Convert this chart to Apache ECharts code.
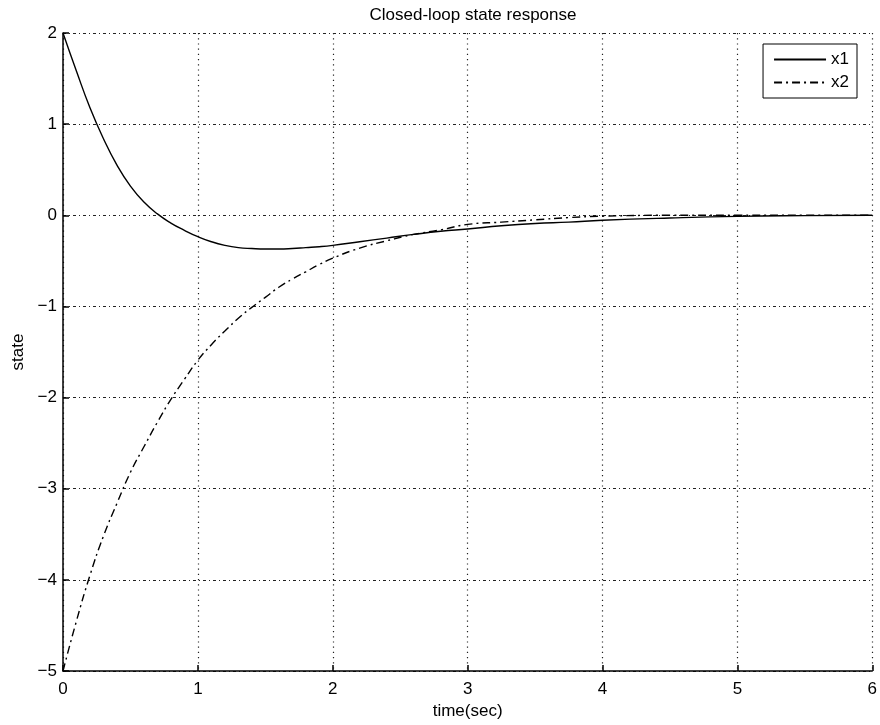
<!DOCTYPE html>
<html>
<head>
<meta charset="utf-8">
<script src="https://cdn.jsdelivr.net/npm/echarts@6/dist/echarts.min.js"></script>
<style>html,body{margin:0;padding:0;background:#fff}#c{width:880px;height:725px}</style>
</head>
<body>
<div id="c"></div>
<script>
const titleText = 'Closed-loop state response';
const xName = 'time(sec)';
const yName = 'state';
const seriesNames = ['x1', 'x2'];
const t  = [0, 0.1, 0.2, 0.3, 0.4, 0.5, 0.6, 0.7, 0.8, 0.9, 1.0, 1.1, 1.2, 1.3, 1.4, 1.5, 1.6, 1.7, 1.8, 1.9, 2.0, 2.2, 2.4, 2.6, 2.8, 3.0, 3.25, 3.5, 3.75, 4.0, 4.5, 5.0, 5.5, 6.0];
const x1 = [2.0, 1.58, 1.18, 0.84, 0.55, 0.32, 0.145, 0.015, -0.085, -0.165, -0.235, -0.29, -0.33, -0.355, -0.365, -0.37, -0.37, -0.365, -0.355, -0.345, -0.33, -0.29, -0.25, -0.21, -0.175, -0.15, -0.115, -0.09, -0.075, -0.055, -0.03, -0.012, -0.004, 0];
const x2 = [-5.0, -4.45, -3.95, -3.52, -3.16, -2.82, -2.54, -2.27, -2.02, -1.80, -1.59, -1.42, -1.27, -1.13, -1.01, -0.9, -0.79, -0.70, -0.62, -0.54, -0.47, -0.36, -0.28, -0.21, -0.16, -0.1, -0.075, -0.05, -0.025, -0.01, 0, 0, 0, 0];

const pair = (xs, ys) => xs.map((v, i) => [v, ys[i]]);
const fmt = v => String(v).replace('-', '\u2212');
const font = 'Liberation Sans, Arial, Helvetica, sans-serif';

const chart = echarts.init(document.getElementById('c'), null, {renderer: 'canvas'});
chart.setOption({
  animation: false,
  backgroundColor: '#fff',
  textStyle: {fontFamily: font},
  title: {
    text: titleText, left: 468, top: 2, textAlign: 'center',
    textStyle: {fontFamily: font, fontSize: 17, fontWeight: 'normal', color: '#000'}
  },
  grid: {left: 63, right: 7, top: 33, bottom: 53, containLabel: false},
  legend: {
    data: seriesNames,
    orient: 'vertical',
    right: 23, top: 44,
    backgroundColor: '#fff',
    borderColor: '#000', borderWidth: 1,
    padding: [7, 8, 7, 10],
    itemWidth: 52, itemHeight: 14, itemGap: 6,
    itemStyle: {opacity: 0},
    textStyle: {fontFamily: font, fontSize: 17, color: '#000'}
  },
  xAxis: {
    type: 'value', min: 0, max: 6, interval: 1,
    name: xName, nameLocation: 'middle', nameGap: 32,
    nameTextStyle: {fontFamily: font, fontSize: 17, color: '#000'},
    axisLine: {onZero: false, lineStyle: {color: '#000', width: 1.5}},
    axisTick: {inside: true, length: 6, lineStyle: {color: '#000', width: 1.5}},
    axisLabel: {margin: 10, fontFamily: font, fontSize: 17, color: '#000', formatter: fmt},
    splitLine: {show: true, lineStyle: {color: '#222', width: 1.2, type: [1.2, 4]}}
  },
  yAxis: {
    type: 'value', min: -5, max: 2, interval: 1,
    name: yName, nameLocation: 'middle', nameGap: 36, nameRotate: 90,
    nameTextStyle: {fontFamily: font, fontSize: 17, color: '#000'},
    axisLine: {show: true, onZero: false, lineStyle: {color: '#000', width: 1.5}},
    axisTick: {show: true, inside: true, length: 6, lineStyle: {color: '#000', width: 1.5}},
    axisLabel: {margin: 6, fontFamily: font, fontSize: 17, color: '#000', formatter: fmt},
    splitLine: {show: true, lineStyle: {color: '#222', width: 1.2, type: [3, 3, 1, 3]}}
  },
  series: [
    {
      name: seriesNames[0], type: 'line', data: pair(t, x1), smooth: 0.5,
      symbol: 'none', showSymbol: false,
      lineStyle: {color: '#000', width: 1.4, type: 'solid'},
      itemStyle: {color: '#000'}
    },
    {
      name: seriesNames[1], type: 'line', data: pair(t, x2), smooth: 0.5,
      symbol: 'none', showSymbol: false,
      lineStyle: {color: '#000', width: 1.4, type: [8, 4, 2, 4]},
      itemStyle: {color: '#000'}
    }
  ]
});
</script>
</body>
</html>
